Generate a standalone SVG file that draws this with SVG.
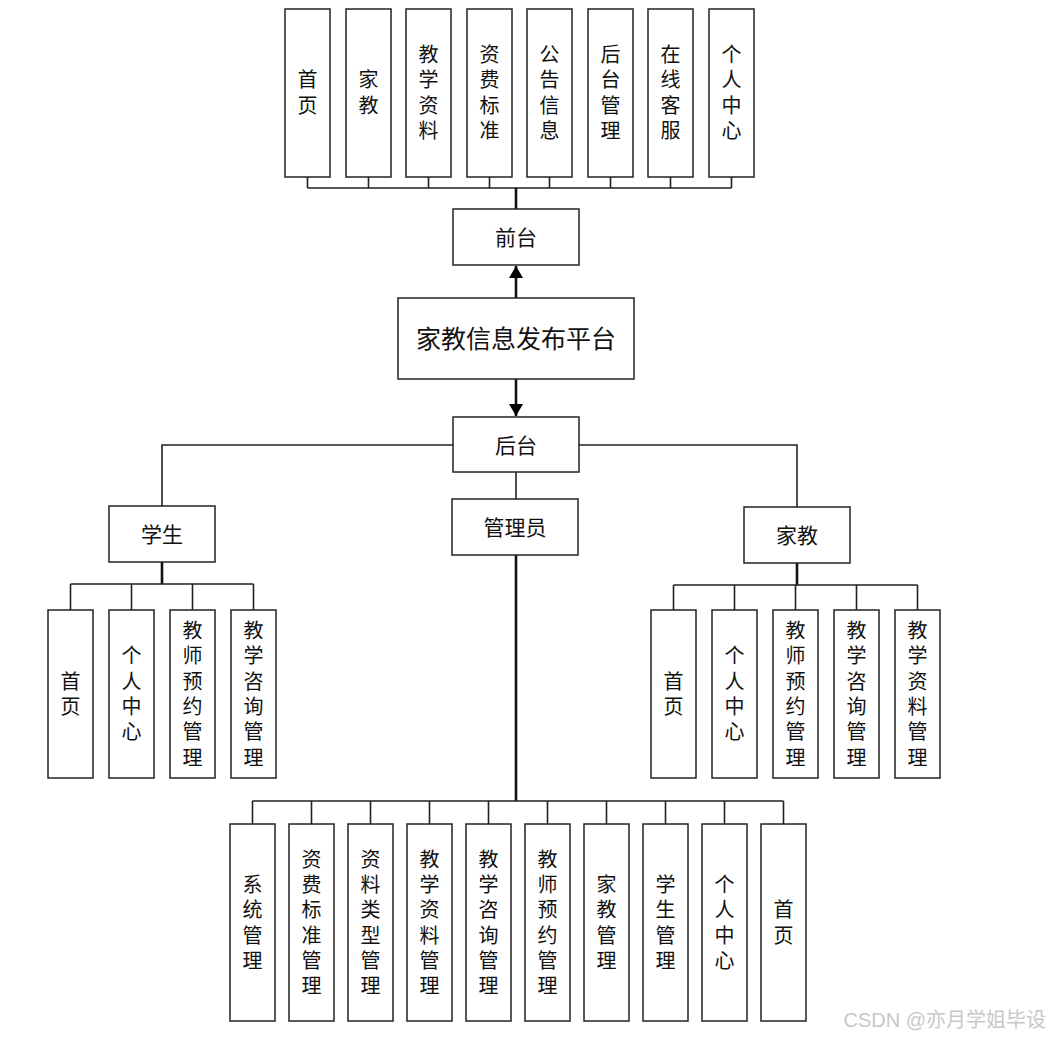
<svg xmlns="http://www.w3.org/2000/svg" width="1051" height="1037" viewBox="0 0 1051 1037">
<defs>
<style>
.b{fill:#fff;stroke:#222;stroke-width:1.5}
.t{font-family:"Noto Sans CJK SC","Noto Sans",sans-serif;font-size:21px;fill:#111;text-anchor:middle;dominant-baseline:central}
.v{font-family:"Noto Sans CJK SC","Noto Sans",sans-serif;font-size:20px;fill:#111;text-anchor:middle;writing-mode:vertical-rl;letter-spacing:5.3px}
.l{fill:none;stroke:#222;stroke-width:1.6}
.k{fill:none;stroke:#111;stroke-width:2.6}
</style>
<marker id="ah" viewBox="0 0 12 14" refX="12" refY="7" markerWidth="12" markerHeight="14" markerUnits="userSpaceOnUse" orient="auto">
<path d="M0,0 L12,7 L0,14 Z" fill="#000"/>
</marker>
</defs>
<rect width="1051" height="1037" fill="#fff"/>
<g id="connectors">
<path class="l" d="M307.5,177V188M368.5,177V188M428.5,177V188M489.5,177V188M549.5,177V188M610.5,177V188M670.5,177V188M731.5,177V188M307.5,188H731.5"/>
<path class="k" d="M516,188V209"/>
<path class="k" d="M516,298V266" marker-end="url(#ah)"/>
<path class="k" d="M516,379V416" marker-end="url(#ah)"/>
<path class="l" d="M453,445H162V506M579,445H797V507M516,472V499"/>
<path class="k" d="M162,562V584M797,563V585M516,555V801"/>
<path class="l" d="M70.5,584H253.5M70.5,584V610M131.5,584V610M192.5,584V610M253.5,584V610"/>
<path class="l" d="M673.5,585H917.5M673.5,585V610M734.5,585V610M795.5,585V610M856.5,585V610M917.5,585V610"/>
<path class="l" d="M252.5,801H783.5M252.5,801V824M311.5,801V824M370.5,801V824M429.5,801V824M488.5,801V824M547.5,801V824M606.5,801V824M665.5,801V824M724.5,801V824M783.5,801V824"/>
</g>
<g id="top-home"><rect class="b" x="285" y="9" width="45" height="168"/><text class="v" x="307.5" y="95">首页</text></g>
<g id="top-tutor"><rect class="b" x="346" y="9" width="45" height="168"/><text class="v" x="368.5" y="95">家教</text></g>
<g id="top-material"><rect class="b" x="406" y="9" width="45" height="168"/><text class="v" x="428.5" y="95">教学资料</text></g>
<g id="top-fee"><rect class="b" x="467" y="9" width="45" height="168"/><text class="v" x="489.5" y="95">资费标准</text></g>
<g id="top-notice"><rect class="b" x="527" y="9" width="45" height="168"/><text class="v" x="549.5" y="95">公告信息</text></g>
<g id="top-admin"><rect class="b" x="588" y="9" width="45" height="168"/><text class="v" x="610.5" y="95">后台管理</text></g>
<g id="top-service"><rect class="b" x="648" y="9" width="45" height="168"/><text class="v" x="670.5" y="95">在线客服</text></g>
<g id="top-personal"><rect class="b" x="709" y="9" width="45" height="168"/><text class="v" x="731.5" y="95">个人中心</text></g>
<g id="frontend"><rect class="b" x="453" y="209" width="126" height="56"/><text class="t" x="516" y="236">前台</text></g>
<g id="platform"><rect class="b" x="398" y="298" width="236" height="81"/><text class="t" x="516" y="337" style="font-size:25px">家教信息发布平台</text></g>
<g id="backend"><rect class="b" x="453" y="417" width="126" height="55"/><text class="t" x="516" y="444">后台</text></g>
<g id="student"><rect class="b" x="109" y="506" width="106" height="56"/><text class="t" x="162" y="533">学生</text></g>
<g id="manager"><rect class="b" x="452" y="499" width="126" height="56"/><text class="t" x="515" y="526">管理员</text></g>
<g id="tutor"><rect class="b" x="744" y="507" width="106" height="56"/><text class="t" x="797" y="534">家教</text></g>
<g id="s-home"><rect class="b" x="48" y="610" width="45" height="168"/><text class="v" x="70.5" y="696.5">首页</text></g>
<g id="s-personal"><rect class="b" x="109" y="610" width="45" height="168"/><text class="v" x="131.5" y="696.5">个人中心</text></g>
<g id="s-booking"><rect class="b" x="170" y="610" width="45" height="168"/><text class="v" x="192.5" y="696.5">教师预约管理</text></g>
<g id="s-consult"><rect class="b" x="231" y="610" width="45" height="168"/><text class="v" x="253.5" y="696.5">教学咨询管理</text></g>
<g id="t-home"><rect class="b" x="651" y="610" width="45" height="168"/><text class="v" x="673.5" y="696.5">首页</text></g>
<g id="t-personal"><rect class="b" x="712" y="610" width="45" height="168"/><text class="v" x="734.5" y="696.5">个人中心</text></g>
<g id="t-booking"><rect class="b" x="773" y="610" width="45" height="168"/><text class="v" x="795.5" y="696.5">教师预约管理</text></g>
<g id="t-consult"><rect class="b" x="834" y="610" width="45" height="168"/><text class="v" x="856.5" y="696.5">教学咨询管理</text></g>
<g id="t-material"><rect class="b" x="895" y="610" width="45" height="168"/><text class="v" x="917.5" y="696.5">教学资料管理</text></g>
<g id="m-system"><rect class="b" x="230" y="824" width="45" height="197"/><text class="v" x="252.5" y="925">系统管理</text></g>
<g id="m-fee"><rect class="b" x="289" y="824" width="45" height="197"/><text class="v" x="311.5" y="925">资费标准管理</text></g>
<g id="m-type"><rect class="b" x="348" y="824" width="45" height="197"/><text class="v" x="370.5" y="925">资料类型管理</text></g>
<g id="m-material"><rect class="b" x="407" y="824" width="45" height="197"/><text class="v" x="429.5" y="925">教学资料管理</text></g>
<g id="m-consult"><rect class="b" x="466" y="824" width="45" height="197"/><text class="v" x="488.5" y="925">教学咨询管理</text></g>
<g id="m-booking"><rect class="b" x="525" y="824" width="45" height="197"/><text class="v" x="547.5" y="925">教师预约管理</text></g>
<g id="m-tutor"><rect class="b" x="584" y="824" width="45" height="197"/><text class="v" x="606.5" y="925">家教管理</text></g>
<g id="m-student"><rect class="b" x="643" y="824" width="45" height="197"/><text class="v" x="665.5" y="925">学生管理</text></g>
<g id="m-personal"><rect class="b" x="702" y="824" width="45" height="197"/><text class="v" x="724.5" y="925">个人中心</text></g>
<g id="m-home"><rect class="b" x="761" y="824" width="45" height="197"/><text class="v" x="783.5" y="925">首页</text></g>
<text x="1046" y="1020" style="font-family:'Liberation Sans','Noto Sans CJK SC',sans-serif;font-size:20px;fill:#c8c8c8;text-anchor:end;dominant-baseline:central">CSDN @亦月学姐毕设</text>
</svg>
